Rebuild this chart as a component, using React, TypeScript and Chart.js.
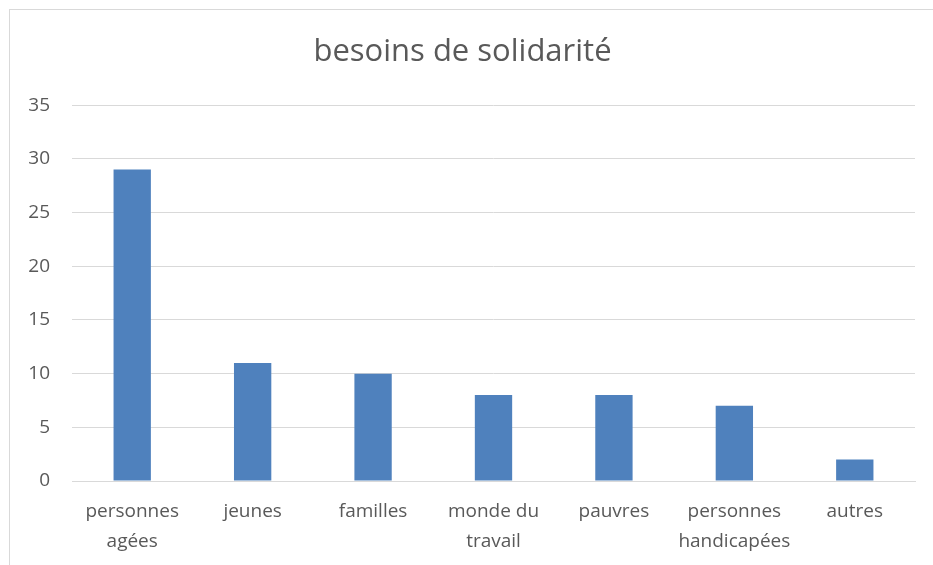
import React, { useEffect, useRef } from "react";
import { Chart, registerables } from "chart.js";

Chart.register(...registerables);

const categories: string[][] = [
  ["personnes", "agées"],
  ["jeunes"],
  ["familles"],
  ["monde du", "travail"],
  ["pauvres"],
  ["personnes", "handicapées"],
  ["autres"],
];
const values: number[] = [29, 11, 10, 8, 8, 7, 2];
const titleText = "besoins de solidarité";
const yMin = 0;
const yMax = 35;
const yStep = 5;

export default function App() {
  const ref = useRef<HTMLCanvasElement | null>(null);
  useEffect(() => {
    if (!ref.current) return;
    const chart = new Chart(ref.current, {
      type: "bar",
      data: {
        labels: categories,
        datasets: [
          {
            data: values,
            backgroundColor: "#4F81BD",
            borderWidth: 0,
            barPercentage: 0.31,
            categoryPercentage: 1,
          },
        ],
      },
      options: {
        responsive: false,
        animation: false,
        layout: { padding: { left: 0, right: 18, top: 0, bottom: 0 } },
        plugins: {
          legend: { display: false },
          tooltip: { enabled: false },
          title: {
            display: true,
            text: titleText,
            color: "#595959",
            font: { family: "Open Sans", size: 31, weight: "normal" },
            padding: { top: 24, bottom: 34 },
          },
        },
        scales: {
          x: {
            grid: { display: false, drawTicks: false },
            border: { display: true, color: "#d9d9d9", width: 1 },
            ticks: {
              color: "#595959",
              font: { family: "Open Sans", size: 19, lineHeight: 1.55 },
              padding: 16,
              maxRotation: 0,
              autoSkip: false,
            },
            afterFit: (s: any) => {
              s.height = 84;
            },
          },
          y: {
            min: yMin,
            max: yMax,
            grid: { color: "#d9d9d9", lineWidth: 1, drawTicks: false },
            border: { display: false },
            ticks: {
              stepSize: yStep,
              color: "#595959",
              font: { family: "Open Sans", size: 19 },
              padding: 22,
            },
            afterFit: (s: any) => {
              s.width = 62;
            },
          },
        },
      },
    });
    return () => chart.destroy();
  }, []);
  return (
    <div
      style={{
        position: "absolute",
        left: 9,
        top: 9,
        borderLeft: "1px solid #d9d9d9",
        borderTop: "1px solid #d9d9d9",
        width: 923,
        height: 555,
      }}
    >
      <canvas ref={ref} width={923} height={555} style={{ display: "block" }} />
    </div>
  );
}
